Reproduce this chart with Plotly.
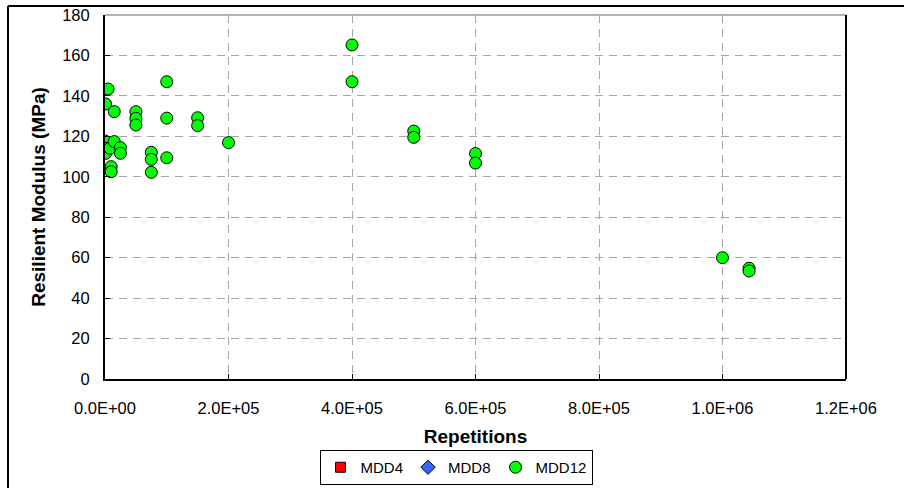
import plotly.graph_objects as go

# Resilient modulus measurements per load repetition count
mdd4_reps = [None]
mdd4_modulus = [None]
mdd8_reps = [None]
mdd8_modulus = [None]
mdd12_reps = [0, 0, 1000, 1000, 5000, 8000, 10000, 10000, 15000, 15000,
              25000, 25000, 50000, 50000, 50000, 75000, 75000, 75000,
              100000, 100000, 100000, 150000, 150000, 200000,
              400000, 400000, 500000, 500000, 600000, 600000,
              1000000, 1043000, 1043000]
mdd12_modulus = [117.7, 114.1, 111.6, 136.0, 143.4, 114.1, 105.0, 102.5, 132.2, 117.4,
                 114.4, 111.6, 132.2, 128.9, 125.6, 112.1, 108.6, 102.2,
                 147.0, 129.0, 109.4, 129.2, 125.3, 116.9,
                 165.2, 147.0, 122.6, 119.5, 111.5, 106.8,
                 60.0, 54.8, 53.4]

x_ticks = [0, 200000, 400000, 600000, 800000, 1000000, 1200000]
x_tick_labels = ["0.0E+00", "2.0E+05", "4.0E+05", "6.0E+05", "8.0E+05", "1.0E+06", "1.2E+06"]
y_ticks = [0, 20, 40, 60, 80, 100, 120, 140, 160, 180]

FONT = "Liberation Sans, Arial, sans-serif"
W, H = 904, 488
ML, MR, MT, MB = 105, 58, 15, 109
PW, PH = W - ML - MR, H - MT - MB

fig = go.Figure()
fig.add_trace(go.Scatter(
    x=mdd4_reps, y=mdd4_modulus, mode="markers", name="MDD4",
    marker=dict(symbol="square", size=10, color="#FF0000", line=dict(color="#000000", width=1)),
))
fig.add_trace(go.Scatter(
    x=mdd8_reps, y=mdd8_modulus, mode="markers", name="MDD8",
    marker=dict(symbol="diamond", size=11, color="#3366FF", line=dict(color="#000000", width=1)),
))
fig.add_trace(go.Scatter(
    x=mdd12_reps, y=mdd12_modulus, mode="markers", name="MDD12",
    marker=dict(symbol="circle", size=12, color="#00FF00", line=dict(color="#000000", width=1)),
))

grid = dict(showgrid=True, gridcolor="#A6A6A6", gridwidth=1, griddash="8px,6px")

fig.update_xaxes(
    range=[0, 1200000], tickvals=x_ticks, ticktext=x_tick_labels,
    showline=True, linecolor="#000000", linewidth=2,
    ticks="inside", ticklen=5, tickcolor="#000000",
    tickfont=dict(family=FONT, size=16.5, color="#000000"),
    ticklabelstandoff=13, automargin=False,
    title=dict(text="<b>Repetitions</b>", font=dict(family=FONT, size=19, color="#000000"), standoff=14),
    zeroline=False, **grid,
)
fig.update_yaxes(
    range=[0, 180], tickvals=y_ticks,
    showline=True, linecolor="#000000", linewidth=2,
    ticks="inside", ticklen=5, tickcolor="#000000",
    tickfont=dict(family=FONT, size=16.5, color="#000000"),
    ticklabelstandoff=10, automargin=False,
    title=dict(text="<b>Resilient Modulus (MPa)</b>", font=dict(family=FONT, size=19, color="#000000"), standoff=12),
    zeroline=False, **grid,
)

def px_x(p):
    return (p - ML) / PW

def px_y(p):
    return (H - MB - p) / PH

shapes = [
    # plot-area frame: grey top edge, black right edge
    dict(type="line", xref="paper", yref="paper", x0=0, x1=1, y0=1, y1=1,
         line=dict(color="#9A9A9A", width=1.5)),
    dict(type="line", xref="paper", yref="paper", x0=1, x1=1, y0=0, y1=1,
         line=dict(color="#000000", width=2)),
    # outer chart border
    dict(type="line", xref="paper", yref="paper", x0=px_x(8), x1=px_x(W + 5), y0=px_y(6), y1=px_y(6),
         line=dict(color="#000000", width=2)),
    dict(type="line", xref="paper", yref="paper", x0=px_x(8), x1=px_x(8), y0=px_y(6), y1=px_y(H + 5),
         line=dict(color="#000000", width=2)),
]

fig.update_layout(
    width=W, height=H,
    margin=dict(l=ML, r=MR, t=MT, b=MB, autoexpand=False),
    paper_bgcolor="#FFFFFF", plot_bgcolor="#FFFFFF",
    font=dict(family=FONT, color="#000000"),
    shapes=shapes,
    legend=dict(
        orientation="h", xref="container", yref="container",
        x=456 / W, y=(H - 450) / H, xanchor="center", yanchor="top",
        bgcolor="#FFFFFF", bordercolor="#000000", borderwidth=1,
        font=dict(family=FONT, size=15, color="#000000"),
        itemwidth=30, tracegroupgap=0,
    ),
    showlegend=True,
)

fig.write_html("out.html")
